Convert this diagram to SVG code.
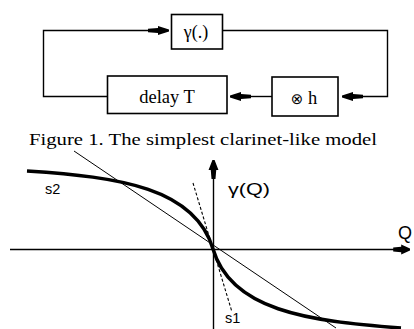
<svg xmlns="http://www.w3.org/2000/svg" xmlns:xlink="http://www.w3.org/1999/xlink" width="414" height="329" viewBox="0 0 414 329">
<style>
.box{fill:#fff;stroke:#000;stroke-width:1.6}
.ln{fill:none;stroke:#000;stroke-width:1.4}
.ser{font-family:"Liberation Serif","Times New Roman",serif;fill:#000}
.san{font-family:"Liberation Sans",Arial,sans-serif;fill:#000}
</style>
<defs>
<path id="ah" d="M0,-1 L0,1 L-11,4.5 L-11,2.5 L-21,1.8 L-21,-1.8 L-11,-2.5 L-11,-4.5 Z" fill="#000"/>
</defs>
<rect width="414" height="329" fill="#fff"/>
<g id="connectors">
<polyline class="ln" points="107,96.5 43.5,96.5 43.5,30.5 160,30.5"/>
<use xlink:href="#ah" transform="translate(169,30.5)"/>
<polyline class="ln" points="223,30.5 387.5,30.5 387.5,96.5 350,96.5"/>
<use xlink:href="#ah" transform="translate(342,96.5) rotate(180)"/>
<line class="ln" x1="272" y1="96.5" x2="240" y2="96.5"/>
<use xlink:href="#ah" transform="translate(230,96.5) rotate(180)"/>
</g>
<g id="gamma">
<rect class="box" x="171.5" y="14.5" width="51" height="34.5"/>
<text class="ser" x="196" y="38" font-size="18" text-anchor="middle">γ(.)</text>
</g>
<g id="delay">
<rect class="box" x="107.5" y="76" width="119.5" height="37.5"/>
<text class="ser" x="167" y="103" font-size="18.5" text-anchor="middle">delay T</text>
</g>
<g id="conv_h">
<rect class="box" x="272" y="77" width="66" height="39"/>
<text class="ser" x="304" y="104" font-size="18.5" text-anchor="middle"><tspan font-size="15" font-family="DejaVu Sans,sans-serif">⊗</tspan> h</text>
</g>
<text class="ser" x="29" y="145" font-size="17" textLength="348" lengthAdjust="spacingAndGlyphs">Figure 1. The simplest clarinet-like model</text>
<g id="plot">
<line class="ln" x1="10" y1="249.5" x2="400" y2="249.5" stroke-width="1.3"/>
<use xlink:href="#ah" transform="translate(410,249.5) scale(0.8,1.1)"/>
<line class="ln" x1="213.5" y1="170" x2="213.5" y2="329" stroke-width="1.3"/>
<use xlink:href="#ah" transform="translate(213.5,160) rotate(-90) scale(0.9,1.1)"/>
<line x1="74" y1="151" x2="336" y2="328" stroke="#000" stroke-width="1"/>
<line x1="193" y1="183" x2="232" y2="312" stroke="#000" stroke-width="1.1" stroke-dasharray="3,2"/>
<path d="M27,171 C120,177 195,188 213,249 C231,310 306,321 401,328" fill="none" stroke="#000" stroke-width="3.5"/>
<text class="san" x="228" y="195" font-size="17" textLength="42" lengthAdjust="spacingAndGlyphs">γ(Q)</text>
<text class="san" x="398" y="239" font-size="18">Q</text>
<text class="san" x="45" y="194" font-size="14.5">s2</text>
<text class="san" x="225" y="323" font-size="14.5">s1</text>
</g>
</svg>
